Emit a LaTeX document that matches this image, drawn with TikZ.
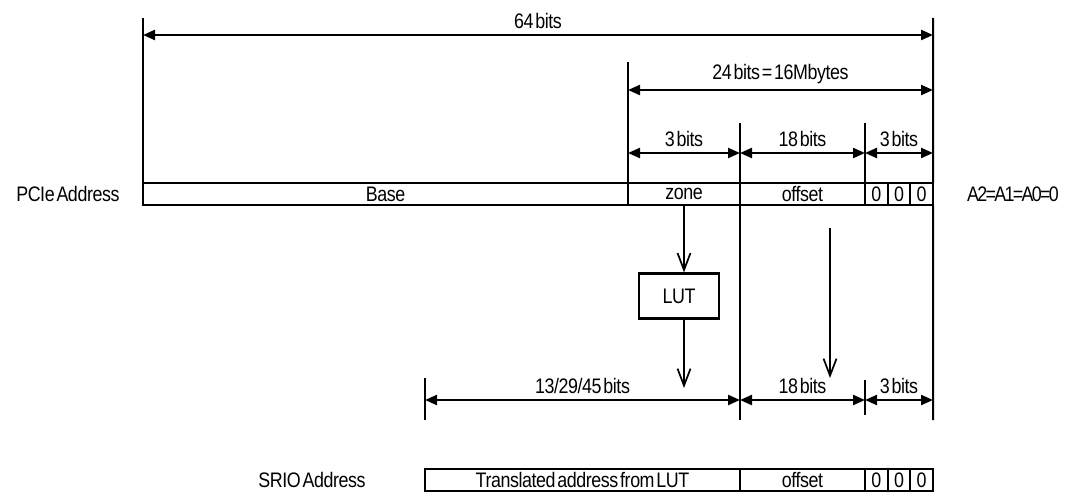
\documentclass[tikz,border=0pt]{standalone}
\usepackage{fontspec}
\setmainfont{Liberation Sans}[FakeStretch=0.85, LetterSpace=-2.0, WordSpace=0.4]
\usetikzlibrary{arrows.meta,positioning}

\tikzset{
  cell/.style={draw, line width=2.2pt, minimum height=22pt, inner sep=1pt, outer sep=0pt, anchor=west},
  dim/.style={line width=2.2pt, {Triangle[length=12pt,width=10pt]}-{Triangle[length=12pt,width=10pt]}},
  ext/.style={line width=2pt},
  flow/.style={line width=1.7pt, -{Straight Barb[length=17pt,width=13pt,line width=1.7pt]}},
  lbl/.style={inner sep=1pt, above=4pt},
}

\begin{document}
\begin{tikzpicture}[x=1pt, y=-1pt, font=\fontsize{21}{24}\selectfont]
    \useasboundingbox (0,0) rectangle (1083,500);

    % PCIe address row
    \node[anchor=east] (pcie) at (123,194) {PCIe Address};
    \node[cell, minimum width=485pt] (base) at (143,194) {Base};
    \node[cell, minimum width=112pt, right=0pt of base] (zone) {zone};
    \node[cell, minimum width=125pt, right=0pt of zone] (offset) {offset};
    \node[cell, minimum width=22.67pt, right=0pt of offset] (za) {0};
    \node[cell, minimum width=22.67pt, right=0pt of za] (zb) {0};
    \node[cell, minimum width=22.67pt, right=0pt of zb] (zc) {0};
    \node[anchor=west, inner sep=0pt] (azero) at (967,194) {\addfontfeature{LetterSpace=-8.0}A2=A1=A0=0};

    % SRIO address row
    \node[anchor=east] (srio) at (369,480) {SRIO Address};
    \node[cell, minimum width=315pt] (trans) at (425,480) {Translated address from LUT};
    \node[cell, minimum width=125pt, right=0pt of trans] (soffset) {offset};
    \node[cell, minimum width=22.67pt, right=0pt of soffset] (sza) {0};
    \node[cell, minimum width=22.67pt, right=0pt of sza] (szb) {0};
    \node[cell, minimum width=22.67pt, right=0pt of szb] (szc) {0};

    % LUT
    \node[draw, line width=2.2pt, minimum width=80pt, minimum height=45pt] (lut) at (679,296) {LUT};

    % extension line ends
    \coordinate (e64l) at (143,18);
    \coordinate (e64r) at (933,18);
    \coordinate (e24l) at (628,62);
    \coordinate (e18l) at (740,123);
    \coordinate (e3l) at (865,123);
    \coordinate (rbot) at (933,420);
    \coordinate (mbot) at (740,420);
    \coordinate (ltop) at (425,378);
    \coordinate (lbot) at (425,420);
    \coordinate (stop) at (865,380);
    \coordinate (sbot) at (865,415);
    \coordinate (lutout) at (684,388);
    \coordinate (offtop) at (830,228);
    \coordinate (offbot) at (830,378);

    % extension lines
    \draw[ext] (e64l) -- (base.north west);
    \draw[ext] (e64r) -- (zc.north east);
    \draw[ext] (zc.south east) -- (rbot);
    \draw[ext] (e24l) -- (zone.north west);
    \draw[ext] (e18l) -- (offset.north west);
    \draw[ext] (e3l) -- (za.north west);
    \draw[ext] (offset.south west) -- (mbot);
    \draw[ext] (ltop) -- (lbot);
    \draw[ext] (stop) -- (sbot);

    % dimensions, top
    \draw[dim] (e64l |- 0,35) -- (e64r |- 0,35) node[midway, lbl] {64 bits};
    \draw[dim] (e24l |- 0,90) -- (e64r |- 0,90) node[midway, lbl] {24 bits = 16Mbytes};
    \draw[dim] (e24l |- 0,153) -- (e18l |- 0,153) node[midway, lbl] {3 bits};
    \draw[dim] (e18l |- 0,153) -- (e3l |- 0,153) node[midway, lbl] {18 bits};
    \draw[dim] (e3l |- 0,153) -- (e64r |- 0,153) node[midway, lbl] {3 bits};

    % dimensions, bottom
    \draw[dim] (ltop |- 0,400) -- (mbot |- 0,400) node[midway, lbl] {13/29/45 bits};
    \draw[dim] (mbot |- 0,400) -- (stop |- 0,400) node[midway, lbl] {18 bits};
    \draw[dim] (stop |- 0,400) -- (rbot |- 0,400) node[midway, lbl] {3 bits};

    % flow arrows
    \draw[flow] (zone.south) -- (zone.south |- lut.north);
    \draw[flow] (lut.south -| zone.south) -- (lutout);
    \draw[flow] (offtop) -- (offbot);
\end{tikzpicture}
\end{document}
